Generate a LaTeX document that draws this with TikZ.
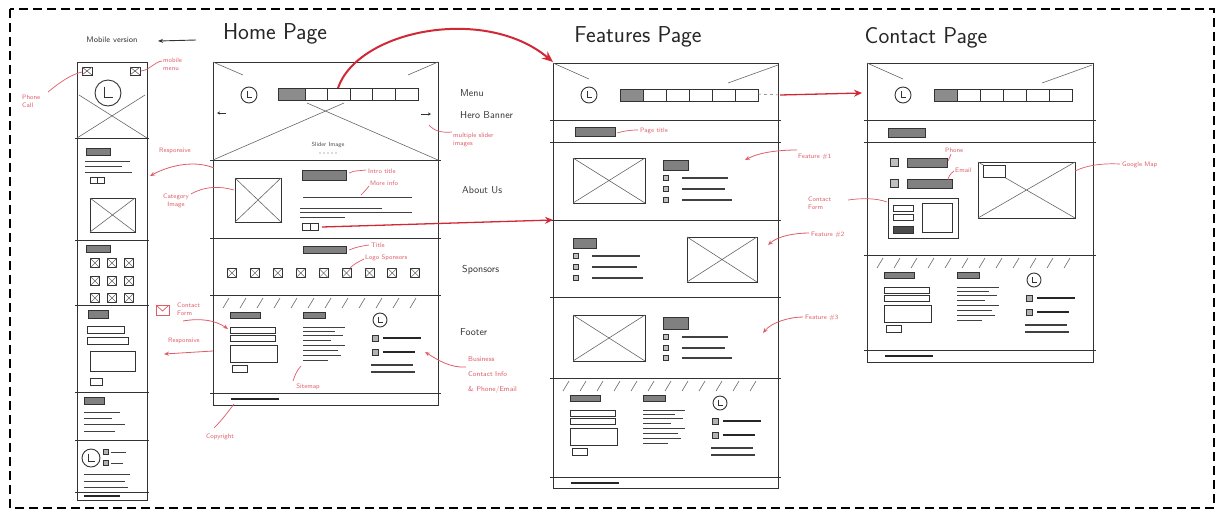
\documentclass[tikz,border=0pt]{standalone}
\usetikzlibrary{arrows.meta}
\definecolor{annot}{RGB}{222,92,104}
\definecolor{redmain}{RGB}{208,40,52}
\tikzset{
 wire/.style={draw=black!80, line width=0.9pt},
 thinw/.style={draw=black!60, line width=0.6pt},
 hatchbox/.style={fill=black!50, draw=black!80, line width=0.5pt},
 txtline/.style={draw=black!75, line width=0.9pt},
 boldline/.style={draw=black!85, line width=1.6pt},
 lbl/.style={font=\sffamily\fontsize{10}{11}\selectfont, text=black!80, inner sep=0pt},
 pagetitle/.style={font=\sffamily\fontsize{23}{25}\selectfont, text=black!85, inner sep=0pt},
 note/.style={font=\sffamily\fontsize{6.5}{8}\selectfont, text=annot, inner sep=0pt, align=left},
 notel/.style={draw=annot, line width=0.7pt},
 notearrow/.style={draw=annot, line width=0.8pt, -{Stealth[length=5pt,width=4pt]}},
 bigarrow/.style={draw=redmain, line width=2pt, -{Stealth[length=11pt,width=9pt]}},
 midarrow/.style={draw=redmain, line width=1.3pt, -{Stealth[length=8pt,width=7pt]}},
 border/.style={draw=black, line width=1.5pt, dash pattern=on 9pt off 5pt},
}
\newcommand\wfLogo[3]{\draw[wire,fill=white] (#1,#2) circle[radius=#3pt];
 \draw[wire] (#1-0.25*#3,#2-0.5*#3) -- (#1-0.25*#3,#2+0.35*#3) -- (#1+0.4*#3,#2+0.35*#3);}
\newcommand\wfX[4]{\draw[wire] (#1,#2) rectangle (#3,#4); \draw[thinw] (#1,#2) -- (#3,#4) (#3,#2) -- (#1,#4);}
\newcommand\wfIcon[3]{\draw[wire,line width=0.7pt] (#1-#3,#2-#3) rectangle (#1+#3,#2+#3);
 \draw[thinw,line width=0.5pt] (#1-#3,#2-#3) -- (#1+#3,#2+#3) (#1+#3,#2-#3) -- (#1-#3,#2+#3);}
\newcommand\wfBul[3]{\draw[wire,line width=0.5pt,fill=black!25] (#1,#2-2.5) rectangle (#1+5,#2+2.5);
 \draw[txtline,line width=1.1pt] (#1+19,#2) -- (#3,#2);}
\newcommand\wfHeader[1]{\begin{scope}[shift={(#1,63)}]
 \draw[thinw] (0,0) -- (36,16) (225,2) -- (175,20);
 \wfLogo{36}{32}{8}
 \fill[black!45] (67,26) rectangle (90,38);
 \draw[wire] (67,26) rectangle (205,38);
 \foreach \k in {90,113,136,159,182} \draw[wire,line width=0.7pt] (\k,26) -- (\k,38);
 \end{scope}}
\newcommand\wfFooter[3]{\begin{scope}[shift={(#1,#2)}]
 \foreach \i in {0,...,11} \draw[thinw] (10+\i*17,13) -- (16+\i*17,3);
 \draw[hatchbox] (17,17) rectangle (47,23);
 \draw[wire,line width=0.6pt] (17,32) rectangle (62,38);
 \draw[wire,line width=0.6pt] (17,40) rectangle (62,46);
 \draw[wire,line width=0.6pt] (17,50) rectangle (64,67);
 \draw[wire,line width=0.6pt] (19,70) rectangle (34,77);
 \draw[hatchbox] (90,17) rectangle (112,23);
 \foreach \yy/\xx in {32/132,36/122,40/130,45/118,50/132,55/125,60/128,65/115} \draw[txtline,line width=0.8pt] (90,\yy) -- (\xx,\yy);
 \wfLogo{167}{25}{7}
 \draw[wire,line width=0.5pt,fill=black!30] (159,40) rectangle (165,46);
 \draw[boldline] (170,43) -- (208,43);
 \draw[wire,line width=0.5pt,fill=black!30] (159,54) rectangle (165,60);
 \draw[boldline] (170,57) -- (202,57);
 \draw[txtline,line width=1.2pt] (158,70) -- (200,70) (158,77) -- (202,77);
 \draw[wire] (-2,#3) -- (227,#3);
 \draw[boldline,line width=1.2pt] (18,#3+6) -- (66,#3+6);
 \end{scope}}
\begin{document}
\begin{tikzpicture}[x=1pt,y=-1pt]
\useasboundingbox (0,0) rectangle (1220,515);
\draw[border] (10,9) rectangle (1214,508);

% ================= MOBILE =================
\node[lbl,font=\sffamily\fontsize{8}{9}\selectfont] (mobv) at (112,40) {Mobile version};
\coordinate (mobarS) at (196,40); \coordinate (mobarE) at (158,41);
\draw[wire,-{Stealth[length=5pt,width=4pt]}] (mobarS) -- (mobarE);
\draw[wire] (77,62) rectangle (147,500);
\foreach \yy in {138,240,305,392,440,492} \draw[wire] (75,\yy) -- (149,\yy);
\draw[thinw] (79,95) -- (147,138) (145,95) -- (77,138);
\wfLogo{108}{93}{13}
\draw[wire,line width=0.6pt] (82,67) rectangle (92,75); \draw[thinw] (82,67)--(92,75) (92,67)--(82,75);
\draw[wire,line width=0.6pt] (130,67) rectangle (140,75); \draw[thinw] (130,67)--(140,75) (140,67)--(130,75);
\draw[hatchbox] (86,148) rectangle (110,155);
\draw[txtline] (85,161) -- (130,161) (85,166) -- (122,166) (85,172) -- (132,172);
\draw[wire,line width=0.6pt] (90,177) rectangle (104,183); \draw[wire,line width=0.6pt] (97,177)--(97,183);
\wfX{90}{198}{135}{232}
\draw[hatchbox] (86,245) rectangle (110,252);
\foreach \cx in {95,112,129} \foreach \cy in {263,281,298} {\wfIcon{\cx}{\cy}{4.5}}
\draw[hatchbox] (88,310) rectangle (108,318);
\draw[wire,line width=0.6pt] (87,326) rectangle (124,333);
\draw[wire,line width=0.6pt] (87,337) rectangle (128,344);
\draw[wire,line width=0.6pt] (90,351) rectangle (135,371);
\draw[wire,line width=0.6pt] (90,378) rectangle (102,385);
\draw[hatchbox] (84,397) rectangle (104,404);
\draw[txtline] (84,412)--(120,412) (84,418)--(112,418) (84,424)--(125,424) (84,431)--(115,431);
\wfLogo{91}{458}{9}
\draw[wire,line width=0.5pt,fill=black!30] (103,449) rectangle (108,454);
\draw[txtline] (111,452) -- (126,452);
\draw[wire,line width=0.5pt,fill=black!30] (103,460) rectangle (108,465);
\draw[txtline] (111,463) -- (123,463);
\draw[txtline] (84,474)--(130,474) (84,481)--(125,481) (84,487)--(128,487);
\draw[boldline,line width=1.2pt] (84,496)--(120,496);

% ================= HOME =================
\node[pagetitle] (thome) at (275,34) {Home Page};
\draw[wire] (213,62) rectangle (438,405);
\foreach \yy in {160,238,295,393} \draw[wire] (210,\yy) -- (441,\yy);
\draw[thinw] (213,62) -- (243,75) (307,103) -- (438,160);
\draw[thinw] (438,62) -- (408,75) (344,103) -- (213,160);
\wfLogo{249}{95}{8}
\fill[black!45] (278,88) rectangle (305,100);
\draw[wire] (278,88) rectangle (418,100);
\foreach \k in {305,327.6,350.2,372.8,395.4} \draw[wire,line width=0.7pt] (\k,88) -- (\k,100);
\node[font=\sffamily\fontsize{6}{7}\selectfont, text=black!70, inner sep=0pt] (slider) at (328,145) {Slider Image};
\foreach \dx in {-8,-4,0,4,8} \fill[black!60] (328+\dx,153) circle[radius=0.7pt];
\draw[wire,line width=0.6pt,-{Stealth[length=3pt,width=3pt]}] (421,114) -- (431,114);
\draw[wire,line width=0.6pt,-{Stealth[length=3pt,width=3pt]}] (226,113) -- (217,113);
\wfX{235}{178}{281}{222}
\draw[hatchbox] (302,170) rectangle (346,180);
\draw[txtline] (303,197) -- (412,197) (300,208) -- (382,208) (300,212) -- (412,212) (300,217) -- (345,217);
\draw[wire,line width=0.6pt] (302,223) rectangle (318,230); \draw[wire,line width=0.6pt] (310,223)--(310,230);
\draw[hatchbox] (303,246) rectangle (346,253);
\foreach \i in {0,...,8} {\wfIcon{232+22.9*\i}{273}{4.5}}
\wfFooter{213}{295}{98}

\node[lbl,anchor=west] (lmenu) at (460,93) {Menu};
\node[lbl,anchor=west] (lhero) at (460,115) {Hero Banner};
\node[lbl,anchor=west] (labout) at (462,190) {About Us};
\node[lbl,anchor=west] (lspons) at (462,270) {Sponsors};
\node[lbl,anchor=west] (lfoot) at (460,332) {Footer};

% ================= FEATURES =================
\node[pagetitle] (tfeat) at (638,37) {Features Page};
\draw[wire] (553,63) rectangle (778,488);
\foreach \yy in {120,142,220,297,378,477} \draw[wire] (550,\yy) -- (781,\yy);
\wfHeader{553}
\draw[hatchbox] (575,127) rectangle (615,136);
\wfX{573}{158}{645}{203}
\draw[hatchbox] (663,160) rectangle (688,170);
\wfBul{663}{178}{728} \wfBul{663}{189}{725} \wfBul{663}{200}{732}
\draw[hatchbox] (573,238) rectangle (596,248);
\wfBul{573}{256}{640} \wfBul{573}{267}{637} \wfBul{573}{278}{643}
\wfX{687}{237}{757}{282}
\wfX{573}{315}{645}{361}
\draw[hatchbox] (663,317) rectangle (688,329);
\wfBul{663}{337}{728} \wfBul{663}{348}{725} \wfBul{663}{358}{732}
\wfFooter{553}{378}{99}
\draw[thinw,dashed] (758,94) -- (780,95);

% ================= CONTACT =================
\node[pagetitle] (tcont) at (926,38) {Contact Page};
\draw[wire] (867,63) rectangle (1093,362);
\foreach \yy in {120,142,255,350} \draw[wire] (864,\yy) -- (1096,\yy);
\wfHeader{867}
\draw[hatchbox] (888,128) rectangle (925,137);
\draw[wire,line width=0.5pt,fill=black!25] (890,158) rectangle (898,166);
\draw[hatchbox] (907,158) rectangle (947,167);
\draw[wire,line width=0.5pt,fill=black!25] (890,179) rectangle (898,187);
\draw[hatchbox] (907,179) rectangle (952,188);
\draw[wire] (888,198) rectangle (958,238);
\draw[wire,line width=0.6pt] (893,205) rectangle (913,211);
\draw[wire,line width=0.6pt] (893,214) rectangle (913,220);
\draw[wire,line width=0.6pt,fill=black!70] (893,226) rectangle (913,233);
\draw[wire,line width=0.6pt] (922,203) rectangle (952,232);
\wfX{978}{162}{1075}{218}
\draw[wire,line width=0.6pt,fill=white] (983,165) rectangle (1005,177);
\wfFooter{867}{255}{95}

% ================= RED ANNOTATIONS =================
\coordinate (menuA) at (338,88); \coordinate (featTL) at (553,62);
\draw[bigarrow] (menuA) .. controls (358,30) and (485,5) .. (featTL);
\coordinate (btnA) at (322,227); \coordinate (featF2) at (553,220);
\draw[midarrow] (btnA) -- (featF2);
\coordinate (fmenuE) at (780,95); \coordinate (cmenuS) at (862,93);
\draw[midarrow] (fmenuE) -- (cmenuS);

\node[note,anchor=north west] (nmm) at (163,58) {mobile\\menu};
\draw[notel] (141,71) .. controls (150,70) and (154,62) .. (162,61);
\node[note,anchor=west] (nph) at (22,101) {Phone\\Call};
\draw[notel] (48,92) .. controls (60,82) and (72,74) .. (82,72);
\node[note] (nresp1) at (175,151) {Responsive};
\coordinate (resp1S) at (214,168); \coordinate (resp1E) at (150,176);
\draw[notearrow] (resp1S) .. controls (195,160) and (170,165) .. (resp1E);
\node[note,align=center] (ncat) at (176,201) {Category\\Image};
\draw[notel] (191,194) .. controls (205,186) and (220,186) .. (234,190);
\draw[notel] (156,305) rectangle (169,315); \draw[notel] (156,305) -- (162.5,311) -- (169,305);
\node[note,anchor=west] (ncf) at (177,309) {Contact\\Form};
\coordinate (cfS) at (183,321); \coordinate (cfE) at (228,329);
\draw[notearrow] (cfS) .. controls (200,318) and (215,320) .. (cfE);
\node[note] (nresp2) at (184,341) {Responsive};
\coordinate (resp2S) at (213,351); \coordinate (resp2E) at (164,354);
\draw[notearrow] (resp2S) -- (resp2E);
\node[note] (ncopy) at (220,437) {Copyright};
\draw[notel] (214,428) .. controls (222,420) and (228,412) .. (234,404);
\node[note] (nsite) at (308,387) {Sitemap};
\draw[notel] (293,381) .. controls (295,375) and (297,370) .. (301,366);
\node[note,font=\sffamily\fontsize{7}{15}\selectfont,anchor=north west] (nbiz) at (468,356) {Business\\Contact Info\\\& Phone/Email};
\coordinate (bizE) at (425,352);
\draw[notearrow] (466,367) .. controls (450,368) and (438,360) .. (bizE);
\node[note,anchor=west] (nmul) at (453,140) {multiple slider\\images};
\draw[notel] (452,132) .. controls (442,133) and (434,131) .. (429,125);
\node[note,anchor=west] (nintro) at (368,171) {Intro title};
\draw[notel] (349,173) .. controls (355,170) and (360,171) .. (366,170);
\node[note,anchor=west] (nmore) at (370,183) {More info};
\draw[notel] (369,186) .. controls (366,190) and (364,192) .. (361,195);
\node[note,anchor=west] (ntitle) at (371,245) {Title};
\draw[notel] (349,250) .. controls (356,247) and (362,246) .. (369,245);
\node[note,anchor=west] (nlogos) at (365,258) {Logo Sponsors};
\draw[notel] (364,259) .. controls (358,262) and (354,264) .. (350,268);
\node[note,anchor=west] (npt) at (640,131) {Page title};
\draw[notel] (617,133) .. controls (624,131) and (630,130) .. (638,130);
\node[note,anchor=west] (nf1) at (798,157) {Feature \#1};
\draw[notearrow] (797,150) .. controls (780,150) and (760,152) .. (745,160);
\node[note,anchor=west] (nf2) at (811,235) {Feature \#2};
\draw[notearrow] (809,233) .. controls (795,233) and (778,236) .. (768,245);
\node[note,anchor=west] (nf3) at (805,318) {Feature \#3};
\draw[notearrow] (803,317) .. controls (790,317) and (772,322) .. (763,333);
\node[note,anchor=west] (ncf2) at (808,203) {Contact\\Form};
\draw[notel] (848,200) .. controls (862,198) and (876,198) .. (887,202);
\node[note,anchor=west] (nphone) at (945,150) {Phone};
\draw[notel] (951,154) .. controls (950,157) and (949,159) .. (948,161);
\node[note,anchor=west] (nemail) at (955,170) {Email};
\draw[notel] (954,171) .. controls (950,174) and (948,177) .. (948,181);
\node[note,anchor=west] (nmap) at (1122,165) {Google Map};
\draw[notel] (1120,164) .. controls (1100,163) and (1085,166) .. (1075,171);
\end{tikzpicture}
\end{document}
